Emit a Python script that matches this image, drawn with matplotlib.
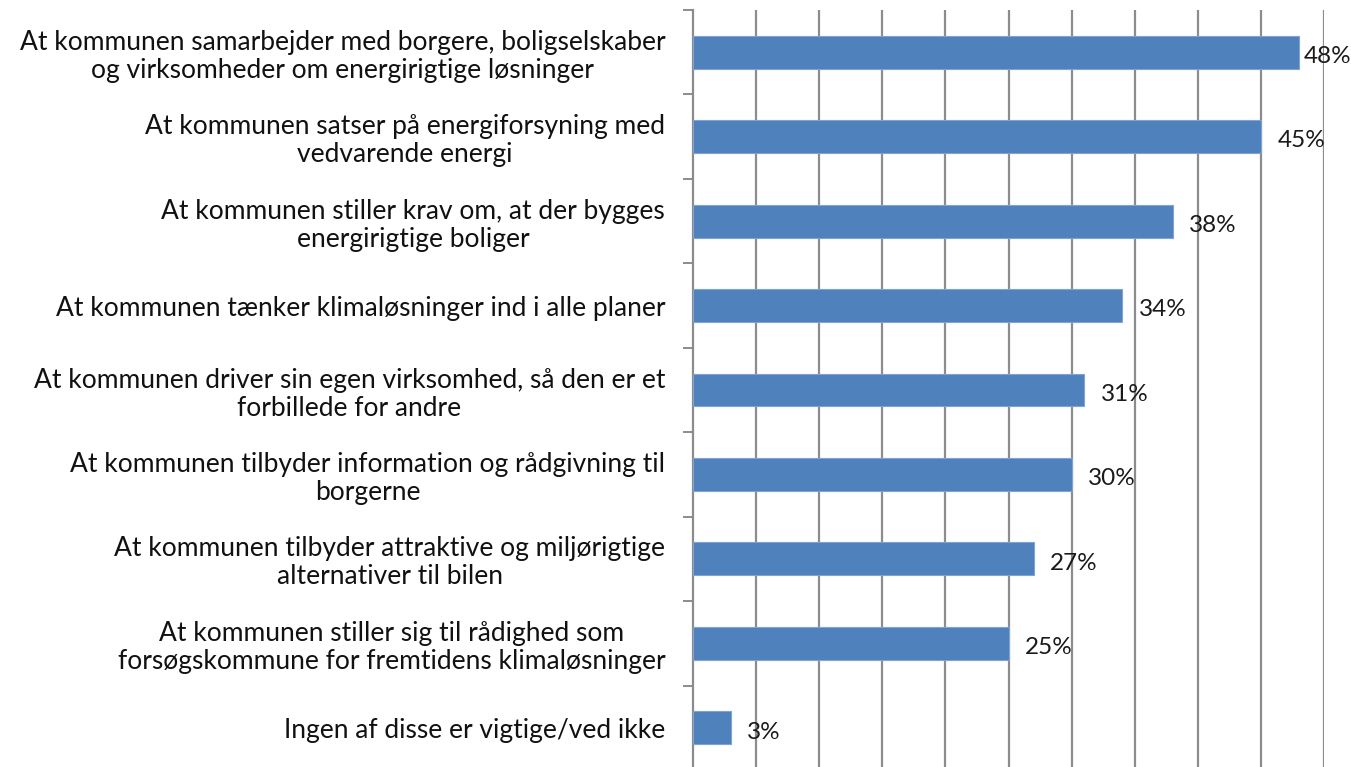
import numpy as np
import matplotlib
matplotlib.use("Agg")
import matplotlib.pyplot as plt

# survey answers, top to bottom
labels = [
    "At kommunen samarbejder med borgere, boligselskaber\nog virksomheder om energirigtige løsninger",
    "At kommunen satser på energiforsyning med\nvedvarende energi",
    "At kommunen stiller krav om, at der bygges\nenergirigtige boliger",
    "At kommunen tænker klimaløsninger ind i alle planer",
    "At kommunen driver sin egen virksomhed, så den er et\nforbillede for andre",
    "At kommunen tilbyder information og rådgivning til\nborgerne",
    "At kommunen tilbyder attraktive og miljørigtige\nalternativer til bilen",
    "At kommunen stiller sig til rådighed som\nforsøgskommune for fremtidens klimaløsninger",
    "Ingen af disse er vigtige/ved ikke",
]
values = [48, 45, 38, 34, 31, 30, 27, 25, 3]
grid_steps = [5, 10, 15, 20, 25, 30, 35, 40, 45, 50]

plt.rcParams['font.family'] = ['Lato', 'DejaVu Sans']

fig = plt.figure(figsize=(13.51, 7.67), dpi=100)
ax = fig.add_axes([693 / 1351, -3 / 767, (1324 - 693) / 1351, 760 / 767])

y = np.arange(len(values))
ax.barh(y, values, height=0.39, color='#4F81BD', edgecolor='#7FA3D3',
        linewidth=0.8, zorder=3)

for v in grid_steps:
    ax.axvline(v, color='#8C8C8C', linewidth=1.6, zorder=1)

for yi, v in zip(y, values):
    off = 0.4 if v == max(values) else 1.3
    ax.text(v + off, yi + 0.05, f"{v}%", va='center', ha='left',
            fontsize=17.5, color='#1a1a1a', zorder=4)

ax.set_xlim(0, 50)
ax.set_ylim(len(values) - 0.5, -0.5)
ax.set_yticks(y)
ax.set_yticklabels(labels, fontsize=19, multialignment='center',
                   color='#111111', linespacing=1.15)
ax.set_yticks(np.arange(-0.5, len(values)), minor=True)
ax.tick_params(axis='y', which='major', length=0, pad=20)
ax.tick_params(axis='y', which='minor', length=7, width=1.4,
               color='#8C8C8C', direction='out')
ax.set_xticks([])

for s in ['top', 'right', 'bottom']:
    ax.spines[s].set_visible(False)
ax.spines['left'].set_color('#8C8C8C')
ax.spines['left'].set_linewidth(1.6)

fig.savefig('out.png', dpi=100)
